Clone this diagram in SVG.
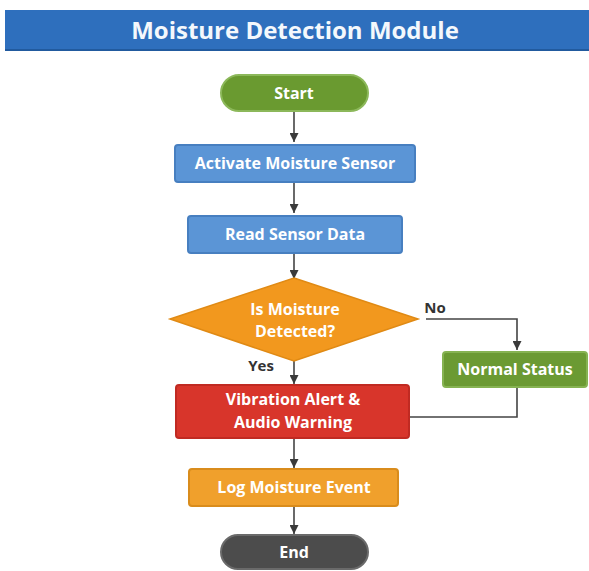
<svg xmlns="http://www.w3.org/2000/svg" width="589" height="571" viewBox="0 0 589 571">
<defs>
<marker id="arr" viewBox="0 0 10 10" refX="10" refY="5" markerWidth="9" markerHeight="9" markerUnits="userSpaceOnUse" orient="auto">
<path d="M0,0 L10,5 L0,10 Z" fill="#3a3a3a"/>
</marker>
<style>
text{font-family:"Open Sans","Noto Sans","DejaVu Sans",sans-serif;font-weight:bold;fill:#ffffff;text-anchor:middle}
.lbl{fill:#333333;font-size:15px}
.t{font-size:16px}
.con{fill:none;stroke:#444444;stroke-width:1.6}
</style>
</defs>
<rect width="589" height="571" fill="#ffffff"/>
<g id="title">
<rect x="5" y="10" width="584" height="41" fill="#2e6fbd"/>
<rect x="5" y="49" width="584" height="2" fill="#215a9e"/>
<text x="295" y="39" font-size="24" style="fill:#f4f8fc">Moisture Detection Module</text>
</g>
<g id="connectors">
<line class="con" x1="294" y1="111" x2="294" y2="142" marker-end="url(#arr)"/>
<line class="con" x1="294" y1="182" x2="294" y2="213" marker-end="url(#arr)"/>
<line class="con" x1="294" y1="253" x2="294" y2="279" marker-end="url(#arr)"/>
<line class="con" x1="294" y1="361" x2="294" y2="384" marker-end="url(#arr)"/>
<polyline class="con" points="426,319 517,319 517,350" marker-end="url(#arr)"/>
<polyline class="con" points="517,387 517,417 409,417"/>
<line class="con" x1="294" y1="438" x2="294" y2="468" marker-end="url(#arr)"/>
<line class="con" x1="294" y1="506" x2="294" y2="534" marker-end="url(#arr)"/>
</g>
<g id="start">
<rect x="221" y="75" width="147" height="36" rx="18" fill="#6a9a30" stroke="#8cb85a" stroke-width="2"/>
<text class="t" x="294" y="99">Start</text>
</g>
<g id="activate">
<rect x="175" y="145" width="240" height="37" rx="3" fill="#5b95d6" stroke="#477fc0" stroke-width="2"/>
<text class="t" x="295" y="169">Activate Moisture Sensor</text>
</g>
<g id="read">
<rect x="188" y="216" width="214" height="37" rx="3" fill="#5b95d6" stroke="#477fc0" stroke-width="2"/>
<text class="t" x="295" y="240">Read Sensor Data</text>
</g>
<g id="decision">
<polygon points="294,278 418,319 294,361 170,319" fill="#f2981e" stroke="#e08a14" stroke-width="1.5"/>
<text class="t" x="295" y="315">Is Moisture</text>
<text class="t" x="295" y="337">Detected?</text>
</g>
<text class="lbl" x="435" y="313">No</text>
<text class="lbl" x="261" y="371">Yes</text>
<g id="normal">
<rect x="443" y="352" width="144" height="35" rx="3" fill="#6b9a33" stroke="#86b352" stroke-width="2"/>
<text class="t" x="515" y="375">Normal Status</text>
</g>
<g id="alert">
<rect x="176" y="385" width="233" height="53" rx="3" fill="#d8352b" stroke="#c02a22" stroke-width="2"/>
<text class="t" x="293" y="405">Vibration Alert &amp;</text>
<text class="t" x="293" y="428">Audio Warning</text>
</g>
<g id="log">
<rect x="189" y="469" width="209" height="37" rx="3" fill="#f0a02c" stroke="#d98c1c" stroke-width="2"/>
<text class="t" x="294" y="493">Log Moisture Event</text>
</g>
<g id="end">
<rect x="221" y="535" width="147" height="34" rx="17" fill="#4c4c4c" stroke="#6a6a6a" stroke-width="2"/>
<text class="t" x="294" y="558">End</text>
</g>
</svg>
